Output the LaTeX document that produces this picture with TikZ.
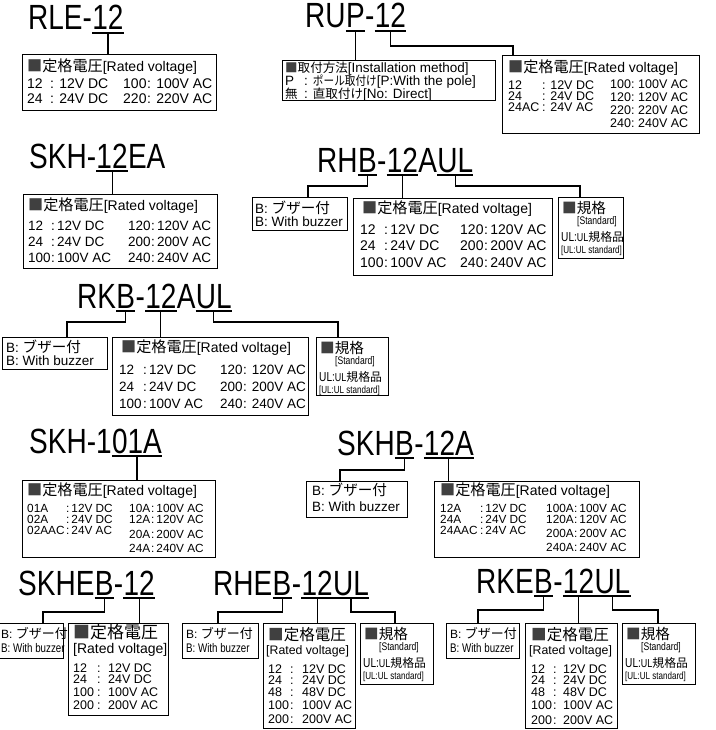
\documentclass[tikz,border=0pt]{standalone}
\usepackage{fontspec}
\usepackage{graphicx}
\setmainfont{Liberation Sans}
\newfontfamily\titlefont{Liberation Sans}[FakeStretch=0.8]
\newfontfamily\narrowfont{Liberation Sans}[FakeStretch=0.78]
\newfontfamily\jp{Noto Sans CJK JP}[Scale=1.08]
\usetikzlibrary{positioning}
\newcommand{\sq}{{\color{black!75}■}}
\newcommand{\ratedhead}{{\jp\sq 定格電圧}[Rated voltage]}
\newcommand{\jps}{\jp\fontsize{11.6}{11.6}\selectfont}
\tikzset{
  title/.style={inner sep=0pt, anchor=base west, font=\titlefont\fontsize{35}{35}\selectfont},
  spec/.style={draw, line width=1.1pt, inner sep=0pt, anchor=north west},
  txt/.style={inner sep=0pt, anchor=base west, font=\fontsize{14}{14}\selectfont},
  rowtxt/.style={inner sep=0pt, anchor=base west, font=\fontsize{13.5}{13.5}\selectfont},
  smalltxt/.style={inner sep=0pt, anchor=base west, font=\fontsize{12.5}{12.5}\selectfont},
  tight/.style={inner sep=0pt, anchor=base west, font=\fontsize{11.8}{11.8}\selectfont},
  link/.style={line width=1.1pt},
}
\begin{document}
\begin{tikzpicture}[x=1pt, y=-1pt]
  \useasboundingbox (0,0) rectangle (715,730);

  % RLE-12
  \node[title] (rle) at (28,30) {RLE-};
  \node[title, base right=0pt of rle] (rle12) {12};
  \node[spec, minimum width=194pt, minimum height=56pt] (rleb) at (22,54) {};
  \node[txt] (rleh) at (27,72) {\ratedhead};
  \foreach \a/\b/\c/\d/\yy [count=\i] in {12/12V DC/100/100V AC/89, 24/24V DC/220/220V AC/104} {
    \node[txt] (rlek\i) at (27,\yy) {\a};
    \node[txt] (rlev\i) at (50,\yy) {: \b};
    \node[txt] (rlem\i) at (123,\yy) {\c};
    \node[txt] (rlew\i) at (147,\yy) {: \d};
  }

  % RUP-12
  \node[title] (rup) at (305,28) {RU};
  \node[title, base right=0pt of rup] (rupP) {P};
  \node[title, base right=0pt of rupP] (rupd) {-};
  \node[title, base right=0pt of rupd] (rup12) {12};
  \node[spec, minimum width=213pt, minimum height=40pt] (rupa) at (282,60) {};
  \node[txt, font=\fontsize{13.5}{13.5}\selectfont] (rupa1) at (285,72.5) {{\jps\sq 取付方法}[Installation method]};
  \node[txt, font=\fontsize{13.5}{13.5}\selectfont] (rupa2) at (285,85.5) {P};
  \node[txt, font=\fontsize{13.5}{13.5}\selectfont] (rupa3) at (304,85.5) {: \scalebox{0.85}[1]{\jps ポール取付け}[P:With the pole]};
  \node[txt, font=\fontsize{13.5}{13.5}\selectfont] (rupa4) at (285,98.5) {{\jps 無}};
  \node[txt, font=\fontsize{13.5}{13.5}\selectfont] (rupa5) at (304,98.5) {: {\jps 直取付け}[No: Direct]};
  \node[spec, minimum width=197pt, minimum height=78pt] (rupb) at (502,55) {};
  \node[txt] (ruph) at (508,73) {\ratedhead};
  \foreach \a/\b/\yy [count=\i] in {12/12V DC/90, 24/24V DC/101, 24AC/24V AC/112} {
    \node[tight, font=\fontsize{12.5}{12.5}\selectfont] (rupk\i) at (508,\yy) {\a};
    \node[tight, font=\fontsize{12.5}{12.5}\selectfont] (rupv\i) at (542,\yy) {: \b};
  }
  \foreach \a/\b/\yy [count=\i] in {100:/100V AC/89, 120:/120V AC/102, 220:/220V AC/115, 240:/240V AC/128} {
    \node[tight, font=\fontsize{12.5}{12.5}\selectfont] (rupm\i) at (610,\yy) {\a};
    \node[tight, font=\fontsize{12.5}{12.5}\selectfont] (rupw\i) at (638,\yy) {\b};
  }

  % SKH-12EA
  \node[title] (skh) at (29,168) {SKH-};
  \node[title, base right=0pt of skh] (skh12) {12};
  \node[title, base right=0pt of skh12] (skhEA) {EA};
  \node[spec, minimum width=194pt, minimum height=74pt] (skhv) at (23,194) {};
  \node[txt] (skhh) at (28,210) {\ratedhead};
  \foreach \a/\b/\c/\d/\yy [count=\i] in {12/12V DC/120/120V AC/230, 24/24V DC/200/200V AC/246, 100/100V AC/240/240V AC/262} {
    \node[rowtxt] (skhk\i) at (28,\yy) {\a};
    \node[rowtxt] (skhx\i) at (51,\yy) {:\,\b};
    \node[rowtxt] (skhm\i) at (128,\yy) {\c};
    \node[rowtxt] (skhw\i) at (151,\yy) {:\,\d};
  }

  % RHB-12AUL
  \node[title] (rhb) at (317,172) {RH};
  \node[title, base right=0pt of rhb] (rhbB) {B};
  \node[title, base right=0pt of rhbB] (rhbd) {-};
  \node[title, base right=0pt of rhbd] (rhb12) {12};
  \node[title, base right=0pt of rhb12] (rhbA) {A};
  \node[title, base right=0pt of rhbA] (rhbUL) {UL};
  \node[spec, minimum width=199pt, minimum height=77pt] (rhbv) at (353,198) {};
  \node[txt] (rhbh) at (362,213) {\ratedhead};
  \foreach \a/\b/\c/\d/\yy [count=\i] in {12/12V DC/120/120V AC/234, 24/24V DC/200/200V AC/250, 100/100V AC/240/240V AC/267} {
    \node[txt] (rhbk\i) at (360,\yy) {\a};
    \node[txt] (rhbx\i) at (384,\yy) {:\,\b};
    \node[txt] (rhbm\i) at (460,\yy) {\c};
    \node[txt] (rhbw\i) at (484,\yy) {:\,\d};
  }

  % RKB-12AUL
  \node[title] (rkb) at (77,308) {RK};
  \node[title, base right=0pt of rkb] (rkbB) {B};
  \node[title, base right=0pt of rkbB] (rkbd) {-};
  \node[title, base right=0pt of rkbd] (rkb12) {12};
  \node[title, base right=0pt of rkb12] (rkbA) {A};
  \node[title, base right=0pt of rkbA] (rkbUL) {UL};
  \node[spec, minimum width=196pt, minimum height=78pt] (rkbv) at (112,337) {};
  \node[txt] (rkbh) at (121,352) {\ratedhead};
  \foreach \a/\b/\c/\d/\yy [count=\i] in {12/12V DC/120/120V AC/374, 24/24V DC/200/200V AC/391, 100/100V AC/240/240V AC/408} {
    \node[rowtxt] (rkbk\i) at (119,\yy) {\a};
    \node[rowtxt] (rkbx\i) at (143,\yy) {:\,\b};
    \node[rowtxt] (rkbm\i) at (220,\yy) {\c};
    \node[rowtxt] (rkbw\i) at (243,\yy) {: \d};
  }

  % SKH-101A
  \node[title] (skh1) at (29,453) {SKH-1};
  \node[title, base right=0pt of skh1] (skh101) {01A};
  \node[spec, minimum width=193pt, minimum height=77pt] (skh1b) at (22,480) {};
  \node[txt] (skh1h) at (27,495) {\ratedhead};
  \foreach \a/\b/\yy [count=\i] in {01A/12V DC/512, 02A/24V DC/523, 02AAC/24V AC/534} {
    \node[tight] (skh1k\i) at (27,\yy) {\a};
    \node[tight] (skh1x\i) at (66,\yy) {:\,\b};
  }
  \foreach \a/\b/\yy [count=\i] in {10A/100V AC/512, 12A/120V AC/523, 20A/200V AC/538, 24A/240V AC/552} {
    \node[tight] (skh1m\i) at (129,\yy) {\a};
    \node[tight] (skh1w\i) at (151,\yy) {:\,\b};
  }

  % SKHB-12A
  \node[title] (skhb) at (337,455) {SKH};
  \node[title, base right=0pt of skhb] (skhbB) {B};
  \node[title, base right=0pt of skhbB] (skhbd) {-};
  \node[title, base right=0pt of skhbd] (skhb12) {12A};
  \node[spec, minimum width=205pt, minimum height=76pt] (skhbv) at (434,481) {};
  \node[txt] (skhbh) at (440,495) {\ratedhead};
  \foreach \a/\b/\yy [count=\i] in {12A/12V DC/512, 24A/24V DC/523, 24AAC/24V AC/534} {
    \node[tight] (skhbk\i) at (440,\yy) {\a};
    \node[tight] (skhbx\i) at (480,\yy) {:\,\b};
  }
  \foreach \a/\b/\yy [count=\i] in {100A/100V AC/512, 120A/120V AC/523, 200A/200V AC/537, 240A/240V AC/551} {
    \node[tight] (skhbm\i) at (546,\yy) {\a};
    \node[tight] (skhbw\i) at (574,\yy) {:\,\b};
  }

  % SKHEB-12
  \node[title] (skheb) at (18,595) {SKHE};
  \node[title, base right=0pt of skheb] (skhebB) {B};
  \node[title, base right=0pt of skhebB] (skhebd) {-};
  \node[title, base right=0pt of skhebd] (skheb12) {12};
  \node[spec, minimum width=100pt, minimum height=92pt] (skhebv) at (68,623) {};
  \node[txt, font=\fontsize{15.7}{15.7}\selectfont] (skhebh) at (73,638) {{\jp\sq 定格電圧}};
  \node[txt, font=\fontsize{14}{14}\selectfont] (skhebr) at (73,653) {[Rated voltage]};
  \foreach \a/\b/\yy [count=\i] in {12/12V DC/672, 24/24V DC/683.5, 100/100V AC/696, 200/200V AC/709} {
    \node[smalltxt] (skhebk\i) at (73,\yy) {\a};
    \node[smalltxt] (skhebc\i) at (97,\yy) {:};
    \node[smalltxt] (skhebx\i) at (108,\yy) {\b};
  }

  % RHEB-12UL
  \node[title] (rheb) at (213,595) {RHE};
  \node[title, base right=0pt of rheb] (rhebB) {B};
  \node[title, base right=0pt of rhebB] (rhebd) {-};
  \node[title, base right=0pt of rhebd] (rheb12) {12};
  \node[title, base right=0pt of rheb12] (rhebUL) {UL};
  \node[spec, minimum width=92pt, minimum height=105pt] (rhebv) at (263,623) {};
  \node[txt, font=\fontsize{14.4}{14.4}\selectfont] (rhebh) at (268,640) {{\jp\sq 定格電圧}};
  \node[txt, font=\fontsize{12.3}{12.3}\selectfont] (rhebr) at (266,654) {[Rated voltage]};
  \foreach \a/\b/\yy [count=\i] in {12/12V DC/673, 24/24V DC/684, 48/48V DC/696, 100/100V AC/709, 200/200V AC/723} {
    \node[smalltxt] (rhebk\i) at (268,\yy) {\a};
    \node[smalltxt] (rhebc\i) at (290,\yy) {:};
    \node[smalltxt] (rhebx\i) at (302,\yy) {\b};
  }

  % RKEB-12UL
  \node[title] (rkeb) at (476,593) {RKE};
  \node[title, base right=0pt of rkeb] (rkebB) {B};
  \node[title, base right=0pt of rkebB] (rkebd) {-};
  \node[title, base right=0pt of rkebd] (rkeb12) {12};
  \node[title, base right=0pt of rkeb12] (rkebUL) {UL};
  \node[spec, minimum width=92pt, minimum height=105pt] (rkebv) at (525,623) {};
  \node[txt, font=\fontsize{14.4}{14.4}\selectfont] (rkebh) at (531,640) {{\jp\sq 定格電圧}};
  \node[txt, font=\fontsize{12.3}{12.3}\selectfont] (rkebr) at (529,654) {[Rated voltage]};
  \foreach \a/\b/\yy [count=\i] in {12/12V DC/673, 24/24V DC/684, 48/48V DC/696, 100/100V AC/709, 200/200V AC/724} {
    \node[smalltxt] (rkebk\i) at (531,\yy) {\a};
    \node[smalltxt] (rkebc\i) at (553,\yy) {:};
    \node[smalltxt] (rkebx\i) at (563,\yy) {\b};
  }

  % Buzzer boxes
  \foreach \n/\x/\y/\w/\h/\dx/\ya/\yb in {rhbb/252/197/95/33/3/16/29, rkbb/2/337/105/32/4/15/28, skhbb/306/481/101/36/6/14/30} {
    \node[spec, minimum width=\w pt, minimum height=\h pt] (\n) at (\x,\y) {};
    \node[rowtxt] (\n1) at ({\x+\dx},{\y+\ya}) {B: {\jp ブザー付}};
    \node[rowtxt] (\n2) at ({\x+\dx},{\y+\yb}) {B: With buzzer};
  }
  \foreach \n/\x/\w/\dx in {skhebb/-2/65/3, rhebb/182/76/4, rkebb/446/73/4} {
    \node[spec, minimum width=\w pt, minimum height=35pt] (\n) at (\x,623) {};
    \node[txt, font=\fontsize{12}{12}\selectfont] (\n1) at ({\x+\dx},638) {B: {\jp ブザー付}};
    \node[txt, font=\narrowfont\fontsize{12.5}{12.5}\selectfont] (\n2) at ({\x+\dx},652) {B: With buzzer};
  }

  % Standard boxes
  \foreach \n/\x/\y/\w/\h in {rhbs/558/197/65/61, rkbs/316/337/72/58, rhebs/360/623/73/61, rkebs/622/623/73/61} {
    \node[spec, minimum width=\w pt, minimum height=\h pt] (\n) at (\x,\y) {};
    \node[txt, font=\fontsize{13.5}{13.5}\selectfont] (\n1) at ({\x+4},{\y+16}) {{\jp\sq 規格}};
    \node[txt, font=\narrowfont\fontsize{11}{11}\selectfont] (\n2) at ({\x+19},{\y+27}) {[Standard]};
    \node[txt] (\n3) at ({\x+3},{\y+44}) {{\narrowfont\fontsize{13}{13}\selectfont UL:}{\narrowfont\fontsize{11.5}{11.5}\selectfont UL}{\jp\fontsize{11}{11}\selectfont 規格品}};
    \node[txt, font=\narrowfont\fontsize{10.3}{10.3}\selectfont] (\n4) at ({\x+3},{\y+56}) {[UL:UL standard]};
  }

  % Underlines
  \foreach \p in {rle12, rupP, rup12, skh12, rhbB, rhb12, rhbUL, rkbB, rkb12, rkbUL, skh101, skhbB, skhb12, skhebB, skheb12, rhebB, rheb12, rhebUL, rkebB, rkeb12, rkebUL}
    \draw[link] ([yshift=-3pt]\p.base west) -- ([yshift=-3pt]\p.base east);

  % Straight leaders
  \foreach \p/\b in {rle12/rleb, rupP/rupa, skh12/skhv, rhb12/rhbv, rkb12/rkbv, skh101/skh1b, skhb12/skhbv, skheb12/skhebv, rheb12/rhebv, rkeb12/rkebv}
    \draw[link] ([yshift=-3pt]\p.base) -- (\p.base |- \b.north);

  % Bent leaders
  \foreach \p/\b/\dy/\dx in {rup12/rupb/15/11, rhbB/rhbb/11/56, rhbUL/rhbs/11/22, rkbB/rkbb/11/65, rkbUL/rkbs/11/22, skhbB/skhbb/12/34, skhebB/skhebb/14/45, rhebB/rhebb/14/36, rhebUL/rhebs/14/35, rkebB/rkebb/14/32, rkebUL/rkebs/14/36}
    \draw[link] ([yshift=-3pt]\p.base) -- ++(0,\dy) -| ([xshift=\dx pt]\b.north west);
\end{tikzpicture}
\end{document}
